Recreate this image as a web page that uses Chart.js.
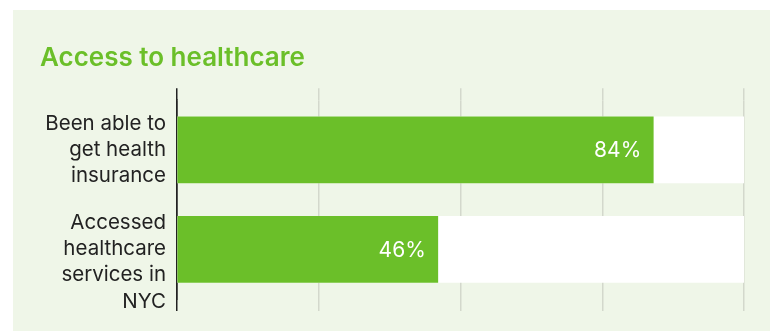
<!DOCTYPE html>
<html>
<head>
<meta charset="utf-8">
<script src="https://cdn.jsdelivr.net/npm/chart.js@4/dist/chart.umd.min.js"></script>
<style>
  html, body { margin: 0; padding: 0; background: #fff; }
  #panel { position: absolute; left: 13px; top: 10px; width: 757px; height: 321px; background: #eff6e8; }
  #chart { position: absolute; left: 0; top: 0; }
</style>
</head>
<body>
<div id="panel"><canvas id="chart" width="756" height="321"></canvas></div>
<script>
// Access to healthcare (share of respondents, %)
const categories = [
  ['Been able to', 'get health', 'insurance'],
  ['Accessed', 'healthcare', 'services in', 'NYC']
];
const shares = [84, 46];
const track = [100, 100];
const tickValues = [0, 25, 50, 75, 100];

const green = '#6bbf29';
const ink = '#222222';
const gridGray = '#d3d8cc';
const font = 'Inter';

// white value labels inside the end of each green bar
const valueLabels = {
  id: 'valueLabels',
  afterDatasetsDraw(chart) {
    const ctx = chart.ctx;
    const meta = chart.getDatasetMeta(0);
    ctx.save();
    ctx.fillStyle = '#ffffff';
    ctx.font = '21px ' + font;
    ctx.textAlign = 'right';
    ctx.textBaseline = 'middle';
    meta.data.forEach((bar, i) => {
      ctx.fillText(shares[i] + '%', bar.x - 12, bar.y + 1);
    });
    ctx.restore();
  }
};

const gridColor = (c) => (c.tick && c.tick.value === 0 ? ink : gridGray);

new Chart(document.getElementById('chart'), {
  type: 'bar',
  data: {
    labels: categories,
    datasets: [
      { data: shares, backgroundColor: green, barThickness: 66, grouped: false, order: 0 },
      { data: track, backgroundColor: '#ffffff', barThickness: 66, grouped: false, order: 1 }
    ]
  },
  options: {
    indexAxis: 'y',
    responsive: false,
    devicePixelRatio: 1,
    animation: false,
    layout: { padding: { left: 27, right: 25, top: 0, bottom: 20 } },
    plugins: {
      legend: { display: false },
      tooltip: { enabled: false },
      title: {
        display: true,
        text: 'Access to healthcare',
        align: 'start',
        color: green,
        font: { family: font, size: 26, weight: '600' },
        padding: { top: 33, bottom: 14 }
      }
    },
    scales: {
      x: {
        type: 'linear',
        min: 0,
        max: 100,
        afterBuildTicks: (s) => { s.ticks = tickValues.map(v => ({ value: v })); },
        ticks: { display: false },
        border: { display: false },
        grid: { color: gridColor, lineWidth: 1.5, tickLength: 12 }
      },
      x2: {
        type: 'linear',
        position: 'top',
        min: 0,
        max: 100,
        afterBuildTicks: (s) => { s.ticks = tickValues.map(v => ({ value: v })); },
        ticks: { display: false },
        border: { display: false },
        grid: { color: gridColor, lineWidth: 1.5, tickLength: 12, drawOnChartArea: false }
      },
      y: {
        type: 'category',
        afterFit: (s) => {
          s.width = 137;
          // tall labels may hang past the plot edges
          s.paddingTop = 0;
          s.paddingBottom = 0;
        },
        border: { display: true, color: ink, width: 1.5 },
        grid: { display: false, drawTicks: false },
        ticks: {
          autoSkip: false,
          color: ink,
          padding: 11,
          font: { family: font, size: 20.5, lineHeight: 1.27 },
          // longer labels sit a little lower beside their bar
          callback: function (value) {
            const lines = this.getLabelForValue(value);
            return lines.length > 3 ? [''].concat(lines) : lines;
          }
        }
      }
    }
  },
  plugins: [valueLabels]
});
</script>
</body>
</html>
